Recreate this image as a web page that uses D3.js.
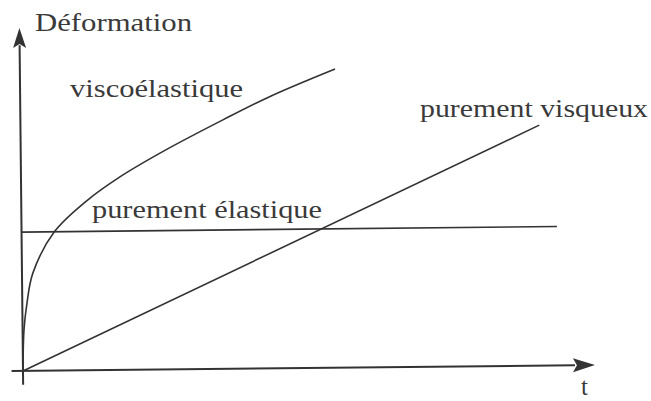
<!DOCTYPE html>
<html>
<head>
<meta charset="utf-8">
<script src="https://cdn.jsdelivr.net/npm/d3@7"></script>
<style>
  html, body { margin: 0; padding: 0; background: #fff; }
  svg { display: block; }
  text { font-family: "Liberation Serif", "DejaVu Serif", serif; fill: #3a3a3a; }
</style>
</head>
<body>
<svg id="chart" width="651" height="401"></svg>
<script>
// ---- data (arbitrary units) ----
const axisX = [-0.2, 10];          // t axis extent
const axisY = [-0.4, 10];          // deformation axis extent
const viscoT = [0, 0.025, 0.082, 0.19, 0.57, 1.15, 1.73, 2.49, 3.54, 4.37, 5.51];
const viscoV = [0, 1.20, 1.98, 2.85, 4.04, 4.95, 5.63, 6.36, 7.26, 7.93, 8.71];
const elastT = [0, 9.36];
const elastV = [4.05, 4.05];
const visqT = [0, 9.07];
const visqV = [0, 7.01];
const labels = ["Déformation", "viscoélastique", "purement élastique", "purement visqueux", "t"];

// ---- layout ----
const svg = d3.select("#chart");
const origin = [23, 371];
const x = d3.scaleLinear().domain([0, 10]).range([0, 572]);
const y = d3.scaleLinear().domain([0, 10]).range([0, -343]);
const ink = "#333";

const g = svg.append("g")
  .attr("transform", `translate(${origin[0]},${origin[1]}) rotate(-0.6)`);

const line = d3.line().x(d => x(d[0])).y(d => y(d[1]));

// axes
g.append("path").attr("d", line([[axisX[0], 0], [axisX[1] - 0.35, 0]]))
  .attr("stroke", ink).attr("stroke-width", 2).attr("fill", "none");
g.append("path").attr("d", line([[0, axisY[0]], [0, axisY[1] - 0.5]]))
  .attr("stroke", ink).attr("stroke-width", 2).attr("fill", "none");

// arrowheads
const ax = x(axisX[1]), ay = y(axisY[1]);
g.append("path")
  .attr("d", `M${ax},0 L${ax - 22},-7 L${ax - 18},0 L${ax - 22},7 Z`)
  .attr("fill", ink);
g.append("path")
  .attr("d", `M0,${ay} L-6.5,${ay + 20} L0,${ay + 16} L6.5,${ay + 20} Z`)
  .attr("fill", ink);

// curves
const curveLine = d3.line().x(d => x(d[0])).y(d => y(d[1])).curve(d3.curveCatmullRom.alpha(0.5));
g.append("path").attr("d", curveLine(viscoT.map((t, i) => [t, viscoV[i]])))
  .attr("stroke", ink).attr("stroke-width", 1.6).attr("fill", "none");
g.append("path").attr("d", line(elastT.map((t, i) => [t, elastV[i]])))
  .attr("stroke", ink).attr("stroke-width", 1.6).attr("fill", "none");
g.append("path").attr("d", line(visqT.map((t, i) => [t, visqV[i]])))
  .attr("stroke", ink).attr("stroke-width", 1.6).attr("fill", "none");

// labels (screen positions, stretched to match the scan)
const labelPos = [
  {x: 35, y: 31, w: 157},
  {x: 70, y: 97, w: 173},
  {x: 92, y: 218, w: 230},
  {x: 420, y: 117, w: 228},
  {x: 581, y: 395, w: 0}
];
labels.forEach((txt, i) => {
  const p = labelPos[i];
  const t = svg.append("text")
    .attr("x", p.x).attr("y", p.y)
    .attr("font-size", 25)
    .text(txt);
  if (p.w > 0) t.attr("textLength", p.w).attr("lengthAdjust", "spacingAndGlyphs");
});
</script>
</body>
</html>
